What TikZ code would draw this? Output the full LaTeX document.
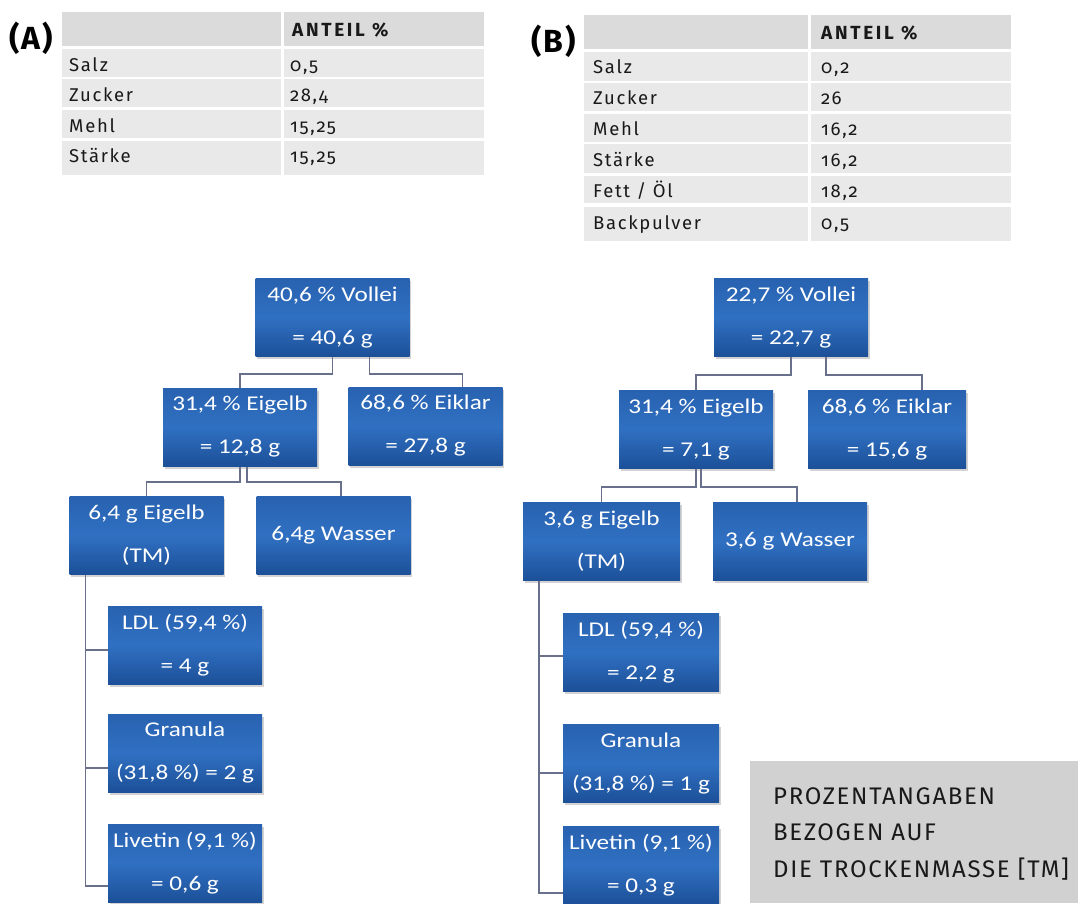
\documentclass[tikz,border=0pt]{standalone}
\usepackage{fontspec}
\setmainfont{Fira Sans}
\newfontfamily\tabfont[Numbers=OldStyle,LetterSpace=9]{Fira Sans}
\newfontfamily\headfont[LetterSpace=14]{Fira Sans}
\newfontfamily\labfont[LetterSpace=6]{Fira Sans}
\newfontfamily\notefont[LetterSpace=7]{Fira Sans}
\newfontfamily\boxfont[FakeStretch=1.2]{Carlito}
\usetikzlibrary{shadows,backgrounds}
\definecolor{hdr}{RGB}{218,219,218}
\definecolor{rowc}{RGB}{232,233,232}
\definecolor{notec}{RGB}{208,209,208}
\definecolor{conn}{RGB}{105,112,140}
\definecolor{bxtop}{RGB}{40,98,176}
\definecolor{bxmid}{RGB}{48,112,194}
\definecolor{bxbot}{RGB}{28,80,152}
\definecolor{txt}{RGB}{25,25,25}
\begin{document}
\begin{tikzpicture}[x=1pt,y=-1pt,
  blu/.style={rectangle, minimum width=154pt, minimum height=78pt, inner sep=0pt,
    top color=bxtop, bottom color=bxbot, middle color=bxmid, text=white,
    font={\boxfont\fontsize{21}{43}\selectfont}, align=center,
    drop shadow={shadow xshift=1.5pt, shadow yshift=-2.5pt, opacity=0.35}},
  link/.style={draw=conn, line width=1.6pt},
  tl/.style={anchor=base west, inner sep=0pt, text=txt, font={\tabfont\fontsize{18.5}{22}\selectfont}},
  th/.style={anchor=base west, inner sep=0pt, text=txt, font={\headfont\fontsize{19}{22}\selectfont\bfseries}},
  lab/.style={anchor=base west, inner sep=0pt, text=black, font={\labfont\bfseries\fontsize{32}{36}\selectfont}},
  nt/.style={anchor=base west, inner sep=0pt, text=txt, font={\notefont\fontsize{24}{28}\selectfont}}]
\useasboundingbox (0,0) rectangle (1078,904);

% ---------- Table A ----------
\fill[hdr] (62,12) rectangle (281,46);
\fill[hdr] (284,12) rectangle (484,46);
\foreach \t/\b in {49/77,79/107,110/138,141/175}{
  \fill[rowc] (62,\t) rectangle (281,\b);
  \fill[rowc] (284,\t) rectangle (484,\b);
}
\node[lab] (labA) at (9,50) {(A)};
\node[th] (aH) at (292,37) {ANTEIL \%};
\node[tl] (a1) at (69,72) {Salz};    \node[tl] (a1v) at (290,72) {0,5};
\node[tl] (a2) at (69,102) {Zucker}; \node[tl] (a2v) at (290,102) {28,4};
\node[tl] (a3) at (69,133) {Mehl};   \node[tl] (a3v) at (290,133) {15,25};
\node[tl] (a4) at (69,163) {Stärke}; \node[tl] (a4v) at (290,163) {15,25};

% ---------- Table B ----------
\fill[hdr] (584,15) rectangle (808,49);
\fill[hdr] (811,15) rectangle (1011,49);
\foreach \t/\b in {52/81,83/111,114/142,144/173,176/203,207/241}{
  \fill[rowc] (584,\t) rectangle (808,\b);
  \fill[rowc] (811,\t) rectangle (1011,\b);
}
\node[lab] (labB) at (531,53) {(B)};
\node[th] (bH) at (821,40) {ANTEIL \%};
\node[tl] (b1) at (593,74) {Salz};        \node[tl] (b1v) at (821,74) {0,2};
\node[tl] (b2) at (593,105) {Zucker};     \node[tl] (b2v) at (821,105) {26};
\node[tl] (b3) at (593,136) {Mehl};       \node[tl] (b3v) at (821,136) {16,2};
\node[tl] (b4) at (593,167) {Stärke};     \node[tl] (b4v) at (821,167) {16,2};
\node[tl] (b5) at (593,197) {Fett / Öl};  \node[tl] (b5v) at (821,197) {18,2};
\node[tl] (b6) at (593,229) {Backpulver}; \node[tl] (b6v) at (821,229) {0,5};

% ---------- Tree A ----------
\node[blu] (vollA) at (332.5,317.5) {40,6 \% Vollei\\= 40,6 g};
\node[blu] (eigA) at (240,427) {31,4 \% Eigelb\\= 12,8 g};
\node[blu] (eikA) at (425.5,426) {68,6 \% Eiklar\\= 27,8 g};
\node[blu] (tmA) at (146.5,535.5) {6,4 g Eigelb\\(TM)};
\node[blu] (wasA) at (333.5,535.5) {6,4g Wasser};
\node[blu] (ldlA) at (185,645) {LDL (59,4 \%)\\= 4 g};
\node[blu] (graA) at (185,753) {Granula\\(31,8 \%) = 2 g};
\node[blu] (livA) at (185,863) {Livetin (9,1 \%)\\= 0,6 g};

% ---------- Tree B ----------
\node[blu] (vollB) at (791,317.5) {22,7 \% Vollei\\= 22,7 g};
\node[blu] (eigB) at (696,429.5) {31,4 \% Eigelb\\= 7,1 g};
\node[blu, minimum width=158pt] (eikB) at (887,429.5) {68,6 \% Eiklar\\= 15,6 g};
\node[blu, minimum width=157pt] (tmB) at (601.5,541.5) {3,6 g Eigelb\\(TM)};
\node[blu] (wasB) at (790,541.5) {3,6 g Wasser};
\node[blu, minimum width=156pt] (ldlB) at (641,652) {LDL (59,4 \%)\\= 2,2 g};
\node[blu, minimum width=156pt] (graB) at (641,763.5) {Granula\\(31,8 \%) = 1 g};
\node[blu, minimum width=156pt] (livB) at (641,865) {Livetin (9,1 \%)\\= 0,3 g};

% ---------- Note ----------
\node[fill=notec, anchor=north west, minimum width=328pt, minimum height=142pt, inner sep=0pt] (note) at (750,761) {};
\node[nt] (n1) at (773,804) {PROZENTANGABEN};
\node[nt] (n2) at (773,840) {BEZOGEN AUF};
\node[nt] (n3) at (773,877) {DIE TROCKENMASSE [TM]};

% ---------- Connectors ----------
\begin{scope}[on background layer]
\draw[link] (vollA.south) -- ++(0,17) -| (eigA.north);
\draw[link] ([xshift=37pt]vollA.south) -- ++(0,17) -| ([xshift=37pt]eikA.north);
\draw[link] (eigA.south) -- ++(0,16) -| (tmA.north);
\draw[link] ([xshift=7pt]eigA.south) -- ++(0,16) -| ([xshift=7.5pt]wasA.north);
\draw[link] ([xshift=16pt]tmA.south west) |- ([yshift=-5pt]ldlA.west);
\draw[link] ([xshift=16pt]tmA.south west) |- ([yshift=-15pt]graA.west);
\draw[link] ([xshift=16pt]tmA.south west) |- ([yshift=-23pt]livA.west);

\draw[link] (vollB.south) -- ++(0,18) -| (eigB.north);
\draw[link] ([xshift=35pt]vollB.south) -- ++(0,18) -| ([xshift=35pt]eikB.north);
\draw[link] (eigB.south) -- ++(0,18) -| (tmB.north);
\draw[link] ([xshift=5pt]eigB.south) -- ++(0,18) -| ([xshift=7pt]wasB.north);
\draw[link] ([xshift=16pt]tmB.south west) |- ([yshift=-4pt]ldlB.west);
\draw[link] ([xshift=16pt]tmB.south west) |- ([yshift=-9.5pt]graB.west);
\draw[link] ([xshift=16pt]tmB.south west) |- ([yshift=-28pt]livB.west);
\end{scope}
\end{tikzpicture}
\end{document}
